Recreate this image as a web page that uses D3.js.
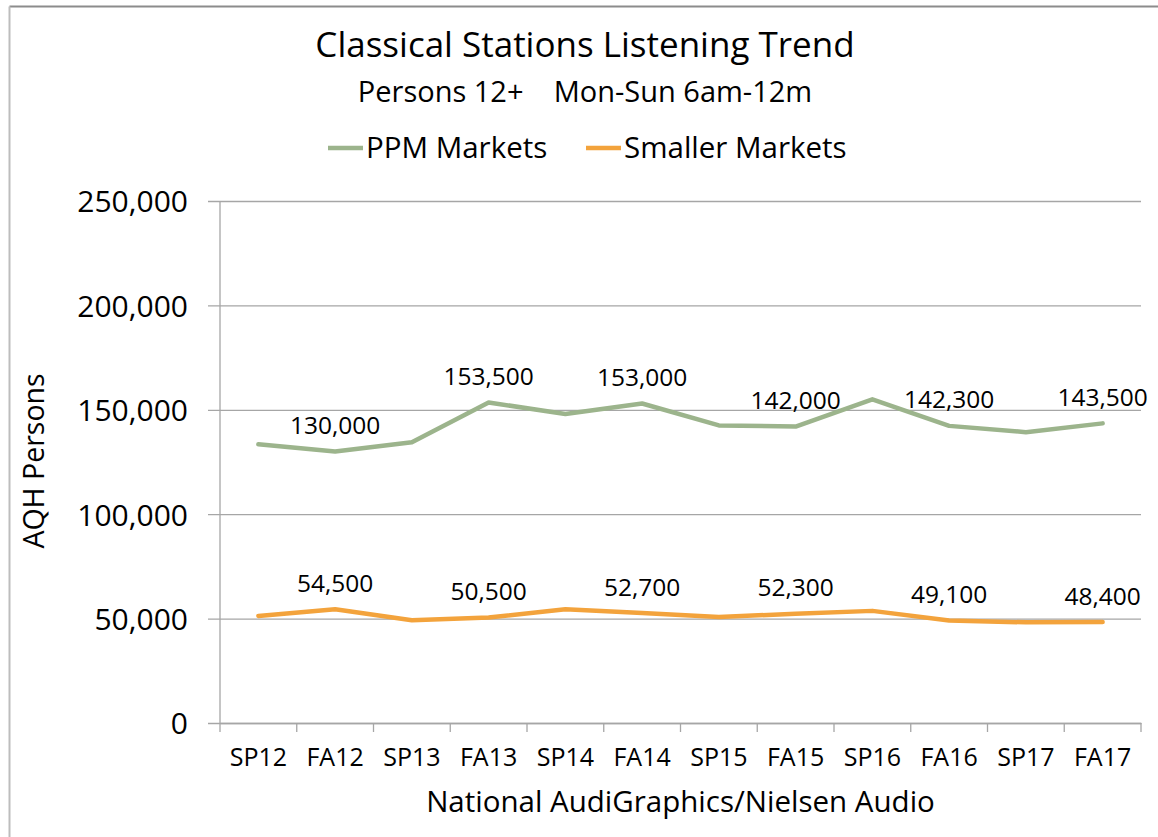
<!DOCTYPE html>
<html>
<head>
<meta charset="utf-8">
<script src="https://cdn.jsdelivr.net/npm/d3@7"></script>
<style>
	body { margin: 0; background: #fff; }
	text { font-family: "Open Sans", sans-serif; fill: #000; }
</style>
</head>
<body>
<div id="chart"></div>
<script>

// data
var seasons = ['SP12', 'FA12', 'SP13', 'FA13', 'SP14', 'FA14', 'SP15', 'FA15', 'SP16', 'FA16', 'SP17', 'FA17'];
var ppmMarkets = [133500, 130000, 134500, 153500, 148000, 153000, 142500, 142000, 155000, 142300, 139300, 143500];
var smallerMarkets = [51300, 54500, 49200, 50500, 54500, 52700, 50800, 52300, 53700, 49100, 48200, 48400];
var yTicks = [0, 50000, 100000, 150000, 200000, 250000];

var series = [
	{ name: 'PPM Markets', values: ppmMarkets, color: '#9cb48c' },
	{ name: 'Smaller Markets', values: smallerMarkets, color: '#f3a33c' }
];

var width = 1158;
var height = 837;
var plot = { left: 220, right: 1141, top: 201, bottom: 723 };

var svg = d3.select('#chart')
		.append('svg')
		.attr('width', width)
		.attr('height', height);

// chart frame
svg.append('line')
		.attr('x1', 9.5).attr('y1', 6.5)
		.attr('x2', width).attr('y2', 6.5)
		.attr('stroke', '#8c8c8c')
		.attr('stroke-width', 2);

svg.append('line')
		.attr('x1', 9.5).attr('y1', 6.5)
		.attr('x2', 9.5).attr('y2', height)
		.attr('stroke', '#bdbdbd')
		.attr('stroke-width', 2);

var x = d3.scaleBand()
		.domain(seasons)
		.range([plot.left, plot.right]);

var y = d3.scaleLinear()
		.domain([0, 250000])
		.range([plot.bottom, plot.top]);

var fmt = d3.format(',');

// gridlines + y axis
var yAxis = svg.append('g')
		.attr('transform', 'translate(' + plot.left + ',0)')
		.call(d3.axisLeft(y)
			.tickValues(yTicks)
			.tickFormat(function (d) { return fmt(d); })
			.tickSize(12)
			.tickPadding(20));

yAxis.select('.domain').remove();
yAxis.selectAll('.tick line')
		.attr('x2', plot.right - plot.left)
		.attr('x1', -12)
		.attr('stroke', '#a6a6a6')
		.attr('stroke-width', 1.3);
yAxis.selectAll('.tick text')
		.attr('font-size', '30px')
		.attr('font-family', '"Open Sans", sans-serif')
		.attr('fill', '#000')
		.attr('dy', '0.36em');

// y axis line
svg.append('line')
		.attr('x1', plot.left).attr('y1', plot.top)
		.attr('x2', plot.left).attr('y2', plot.bottom)
		.attr('stroke', '#a6a6a6')
		.attr('stroke-width', 1.3);

// x axis
var xAxis = svg.append('g')
		.attr('transform', 'translate(0,' + plot.bottom + ')')
		.call(d3.axisBottom(x).tickSize(0).tickPadding(25));

xAxis.select('.domain')
		.attr('stroke', '#a6a6a6')
		.attr('stroke-width', 1.3);
xAxis.selectAll('.tick text')
		.attr('font-size', '25px')
		.attr('font-family', '"Open Sans", sans-serif')
		.attr('fill', '#000');

// category boundary ticks
var bounds = seasons.map(function (d) { return x(d); }).concat([plot.right]);
svg.append('g')
		.selectAll('line')
		.data(bounds)
		.enter()
		.append('line')
		.attr('x1', function (d) { return d; })
		.attr('x2', function (d) { return d; })
		.attr('y1', plot.bottom)
		.attr('y2', plot.bottom + 9)
		.attr('stroke', '#a6a6a6')
		.attr('stroke-width', 1.3);

// lines
var line = d3.line()
		.x(function (d, i) { return x(seasons[i]) + x.bandwidth() / 2; })
		.y(function (d) { return y(d); });

series.forEach(function (s) {
	svg.append('path')
			.datum(s.values)
			.attr('d', line)
			.attr('fill', 'none')
			.attr('stroke', s.color)
			.attr('stroke-width', 4.5)
			.attr('stroke-linejoin', 'round')
			.attr('stroke-linecap', 'round');

	// data labels on fall books
	svg.append('g')
			.selectAll('text')
			.data(s.values.map(function (v, i) { return { v: v, i: i }; })
				.filter(function (d) { return seasons[d.i].indexOf('FA') === 0; }))
			.enter()
			.append('text')
			.attr('x', function (d) { return x(seasons[d.i]) + x.bandwidth() / 2; })
			.attr('y', function (d) { return y(d.v) - 26; })
			.attr('dy', '0.35em')
			.attr('text-anchor', 'middle')
			.attr('font-size', '24.5px')
			.text(function (d) { return fmt(d.v); });
});

// titles
svg.append('text')
		.attr('x', 585)
		.attr('y', 57)
		.attr('text-anchor', 'middle')
		.attr('font-size', '35px')
		.text('Classical Stations Listening Trend');

svg.append('text')
		.attr('x', 585)
		.attr('y', 102)
		.attr('text-anchor', 'middle')
		.attr('font-size', '29px')
		.attr('xml:space', 'preserve')
		.style('white-space', 'pre')
		.text('Persons 12+    Mon-Sun 6am-12m');

// legend
var legend = svg.append('g').attr('transform', 'translate(328,148)');
var legendX = [0, 258];
series.forEach(function (s, i) {
	var g = legend.append('g').attr('transform', 'translate(' + legendX[i] + ',0)');
	g.append('line')
			.attr('x1', 0).attr('x2', 35)
			.attr('y1', 0).attr('y2', 0)
			.attr('stroke', s.color)
			.attr('stroke-width', 4.5);
	g.append('text')
			.attr('x', 38)
			.attr('dy', '0.35em')
			.attr('font-size', '29.5px')
			.text(s.name);
});

// axis titles
svg.append('text')
		.attr('x', (plot.left + plot.right) / 2)
		.attr('y', 812)
		.attr('text-anchor', 'middle')
		.attr('font-size', '29.5px')
		.text('National AudiGraphics/Nielsen Audio');

svg.append('text')
		.attr('transform', 'translate(44,' + 461 + ') rotate(-90)')
		.attr('text-anchor', 'middle')
		.attr('font-size', '28.5px')
		.text('AQH Persons');

</script>
</body>
</html>
